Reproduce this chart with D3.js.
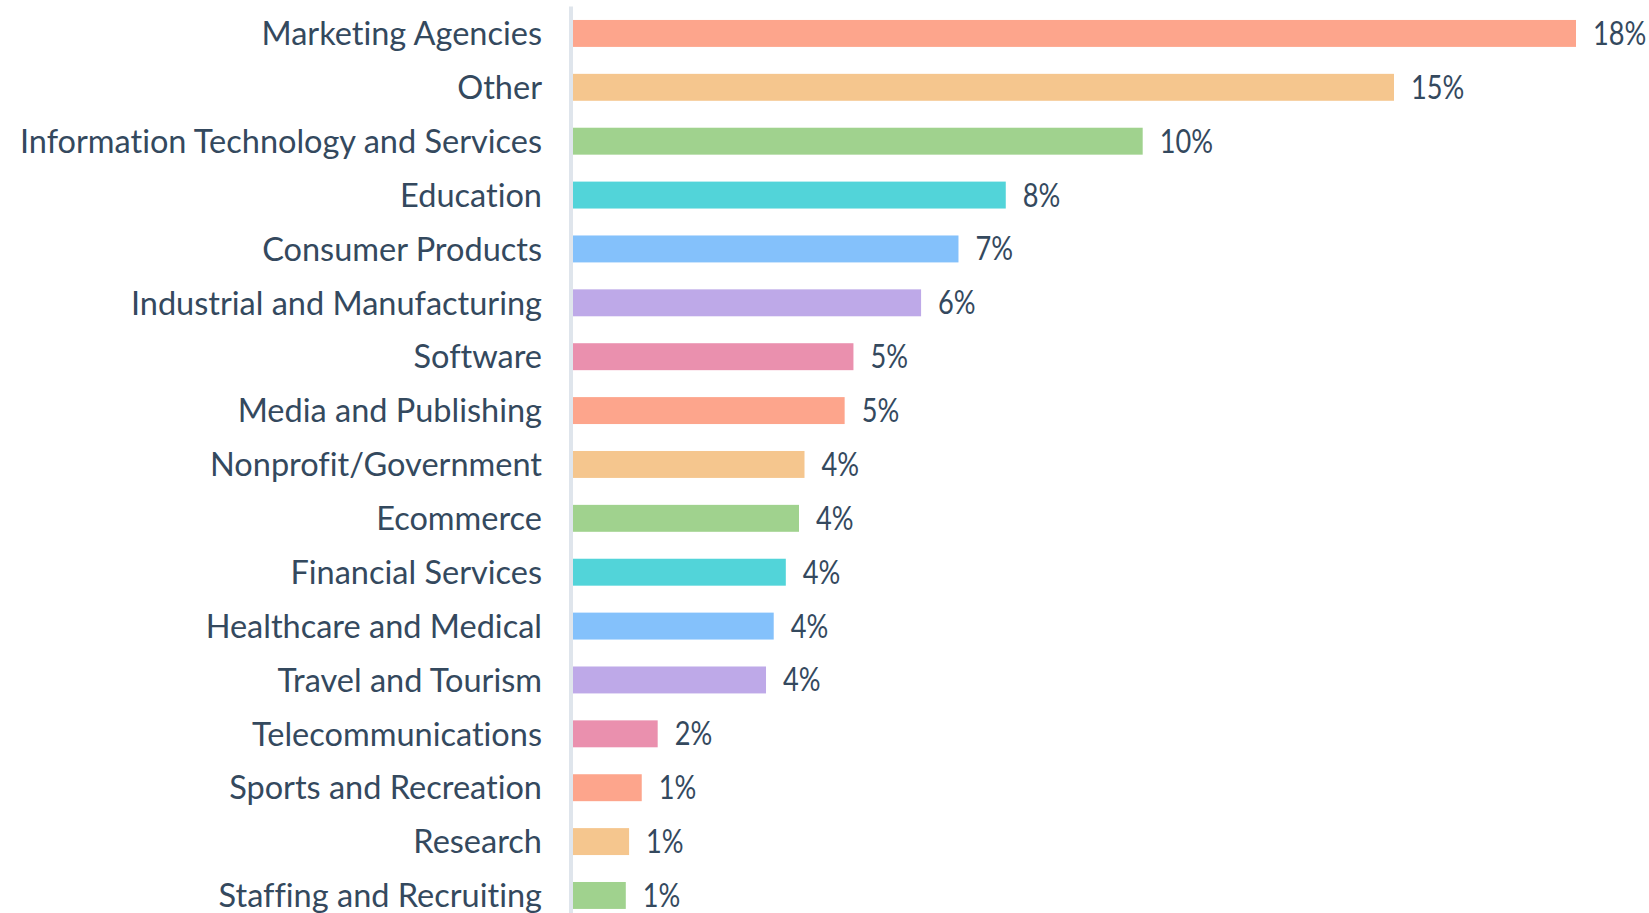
<!DOCTYPE html>
<html>
<head>
<meta charset="utf-8">
<script src="https://cdn.jsdelivr.net/npm/d3@7"></script>
<style>
  html, body { margin: 0; padding: 0; background: #ffffff; overflow: hidden; }
  svg { display: block; }
  text { font-family: Lato, "Open Sans", sans-serif; fill: #34495e; font-variant-ligatures: none; }
</style>
</head>
<body>
<svg id="chart" width="1649" height="913"></svg>
<script>
// Share of respondents by industry (percent)
const industries = [
  "Marketing Agencies",
  "Other",
  "Information Technology and Services",
  "Education",
  "Consumer Products",
  "Industrial and Manufacturing",
  "Software",
  "Media and Publishing",
  "Nonprofit/Government",
  "Ecommerce",
  "Financial Services",
  "Healthcare and Medical",
  "Travel and Tourism",
  "Telecommunications",
  "Sports and Recreation",
  "Research",
  "Staffing and Recruiting"
];
const shares = [18.24, 14.93, 10.36, 7.87, 7.01, 6.33, 5.10, 4.94, 4.21, 4.11, 3.87, 3.65, 3.51, 1.54, 1.25, 1.02, 0.96];
const palette = ["#fda58c", "#f5c68e", "#a0d28e", "#52d4d9", "#84c1fb", "#bea9e8", "#ea90ae"];

const svg = d3.select("#chart");
const rows = industries.map((name, i) => ({ name, value: shares[i], color: palette[i % palette.length] }));

const x = d3.scaleLinear()
  .domain([0, d3.max(shares)])
  .range([573, 1576]);

const y = d3.scaleBand()
  .domain(industries)
  .range([6.5, 922.4])
  .paddingInner(0.5)
  .paddingOuter(0.25);

// category axis line
svg.append("rect")
  .attr("x", 569)
  .attr("y", y.range()[0])
  .attr("width", 4)
  .attr("height", 913)
  .attr("fill", "#dfe5ec");

// bars
svg.append("g").selectAll("rect")
  .data(rows)
  .join("rect")
  .attr("x", x(0))
  .attr("y", d => y(d.name))
  .attr("width", d => x(d.value) - x(0))
  .attr("height", y.bandwidth())
  .attr("fill", d => d.color);

// category labels
svg.append("g").selectAll("text")
  .data(rows)
  .join("text")
  .attr("x", 542)
  .attr("y", d => y(d.name) + y.bandwidth() / 2)
  .attr("dy", "0.36em")
  .attr("text-anchor", "end")
  .style("font-size", "32.5px")
  .text(d => d.name);

// value labels, set in a slightly narrowed face
const fmt = d3.format(".0f");
svg.append("g").selectAll("text")
  .data(rows)
  .join("text")
  .attr("transform", d => `translate(${x(d.value) + 17},${y(d.name) + y.bandwidth() / 2}) scale(0.85,1)`)
  .attr("dy", "0.36em")
  .style("font-size", "32px")
  .text(d => fmt(d.value) + "%");
</script>
</body>
</html>
